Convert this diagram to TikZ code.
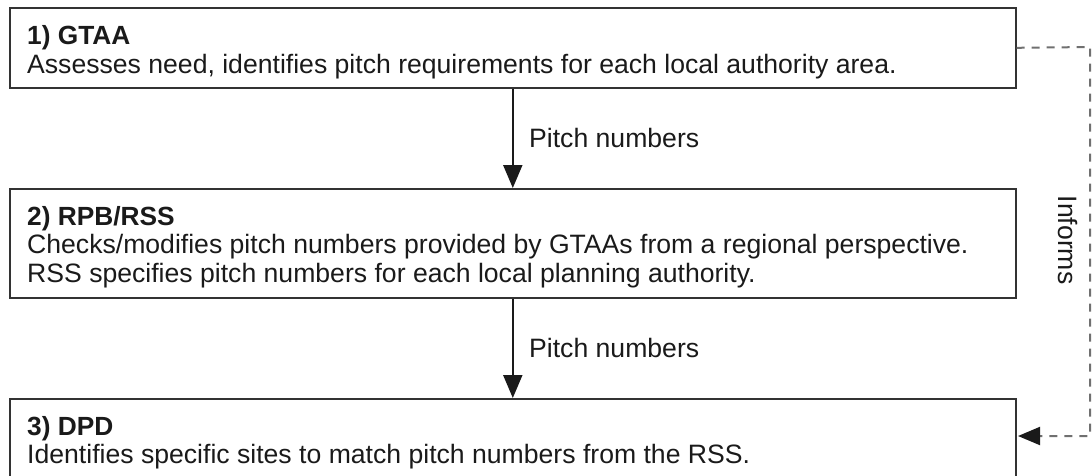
\documentclass[tikz,border=0pt]{standalone}
\usepackage{fontspec}
\setmainfont{Liberation Sans}
\usetikzlibrary{arrows.meta}
\definecolor{boxline}{HTML}{333333}
\definecolor{dashgray}{HTML}{707070}
\definecolor{txt}{HTML}{1A1A1A}
\begin{document}
\begin{tikzpicture}[x=1pt,y=-1pt,
  box/.style={draw=boxline, line width=1.6pt, minimum width=1006pt, anchor=north west, inner sep=0pt},
  head/.style={anchor=base west, inner sep=0pt, text=txt, font=\fontsize{26.3}{29}\selectfont\bfseries},
  body/.style={anchor=base west, inner sep=0pt, text=txt, font=\fontsize{26.6}{29}\selectfont},
  flowarrow/.style={draw=txt, line width=2pt, -{Triangle[length=23pt,width=19pt]}},
  informarrow/.style={draw=dashgray, line width=2pt, dash pattern=on 8pt off 7pt,
     -{Triangle[length=22pt,width=18pt,color=txt,fill=txt]}}
]
\useasboundingbox (0,0) rectangle (1092,475);
% boxes
\node[box, minimum height=80pt] (gtaa) at (9,7) {};
\node[box, minimum height=109pt] (rpb) at (9,188) {};
\node[box, minimum height=100pt] (dpd) at (9,398) {};
% texts
\node[head] (h1) at (27,44) {1) GTAA};
\node[body] (b1) at (27,73) {Assesses need, identifies pitch requirements for each local authority area.};
\node[head] (h2) at (27,225) {2) RPB/RSS};
\node[body] (b2a) at (27,253) {Checks/modifies pitch numbers provided by GTAAs from a regional perspective.};
\node[body] (b2b) at (27,282) {RSS specifies pitch numbers for each local planning authority.};
\node[head] (h3) at (27,435) {3) DPD};
\node[body] (b3) at (27,463) {Identifies specific sites to match pitch numbers from the RSS.};
% flow arrows
\draw[flowarrow] (gtaa.south) -- (rpb.north);
\node[body] (l1) at (529,147) {Pitch numbers};
\draw[flowarrow] (rpb.south) -- (dpd.north);
\node[body] (l2) at (529,357) {Pitch numbers};
% informs
\coordinate (c1) at (1090,47);
\coordinate (c2) at (1090,436);
\coordinate (tip) at (1018,436);
\draw[informarrow] (gtaa.east) -- (c1) -- (c2) -- (tip);
\node[inner sep=0pt, text=txt, rotate=-90, font=\fontsize{26.6}{29}\selectfont] (inf) at (1068,240) {Informs};
\end{tikzpicture}
\end{document}
